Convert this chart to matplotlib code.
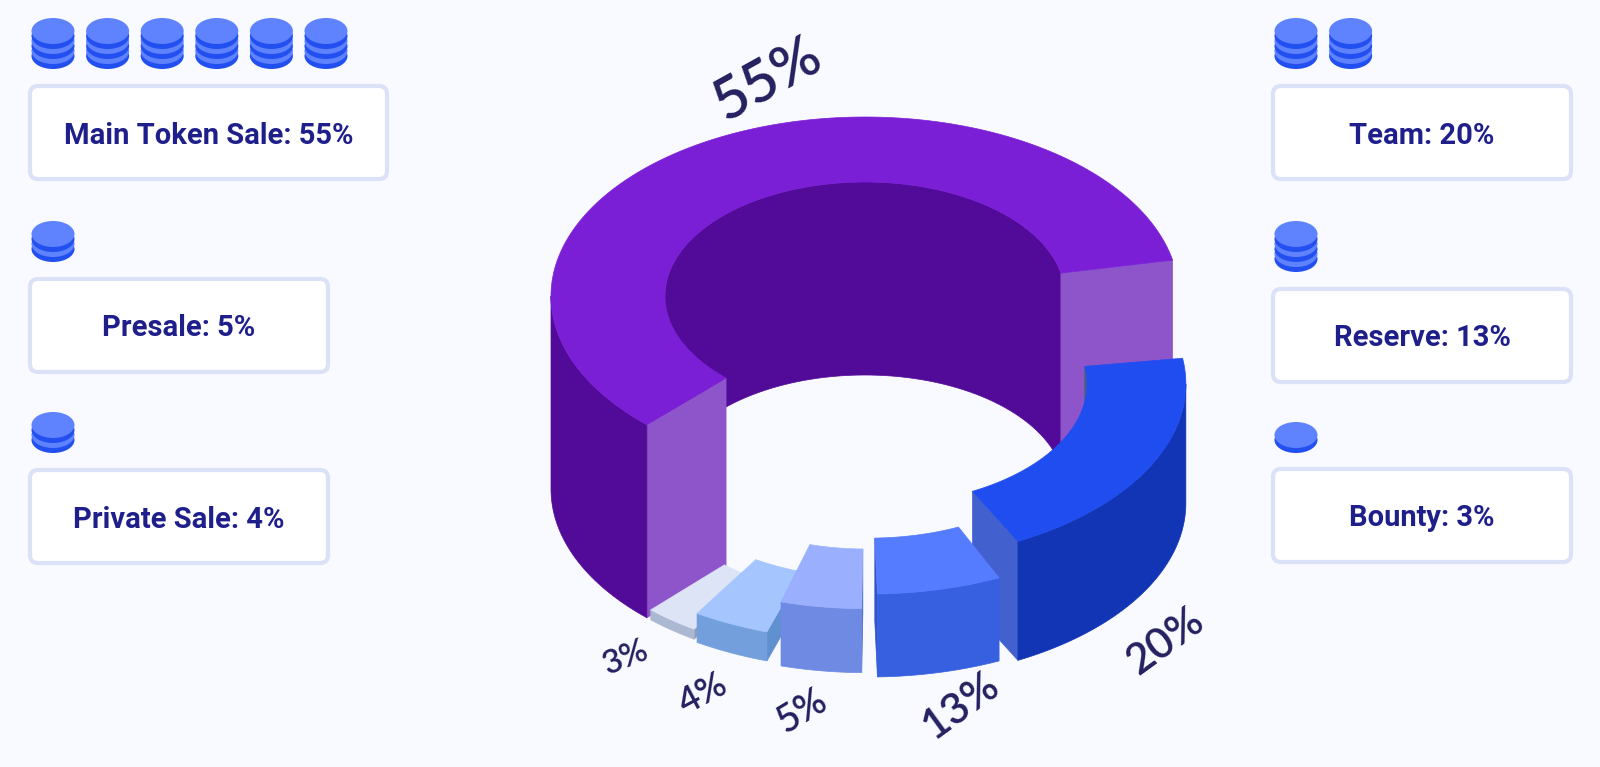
import numpy as np
import matplotlib
matplotlib.use('Agg')
import matplotlib.pyplot as plt
from matplotlib.patches import Ellipse, FancyBboxPatch

names = ['Main Token Sale', 'Team', 'Reserve', 'Presale', 'Private Sale', 'Bounty']
shares = [55, 20, 13, 5, 4, 3]
coin_stacks = [6, 2, 1, 1, 1, 1]
coin_discs = [3, 3, 3, 2, 2, 1]

# the drawing is not a true pie, sweep = share * 3.6 * stretch
stretch = [1.083, 0.986, 0.49, 0.855, 0.97, 0.93]
gap_after = [3.2, 2.9, 2.16, 2.0, 1.0, 1.0]
heights = [193, 119, 83, 64, 29, 10]
shift_x = [0, 10, 4, 0, 0, 0]
shift_y = [0, 14, 9, 10, 0, 0]
r_out = [1.0, 0.99, 1.0, 0.97, 1.01, 1.0]
r_in = [1.0, 1.06, 1.08, 1.0, 1.03, 1.03]
top_col = ['#7b1fd6', '#1f4df0', '#557cff', '#9ab0ff', '#a5c5ff', '#dde4f5']
wall_col = ['#520b99', '#1235b5', '#3760e0', '#6e8ae3', '#739fdd', '#aab8d2']
face_col = ['#8e55cb', '#4360cf', '#2f55cc', '#4a6ad0', '#6090d0', '#8f9fb8']
back_col = ['#520b99', '#4a5f80', '#3760e0', '#6e8ae3', '#739fdd', '#aab8d2']
draw_order = [0, 1, 5, 4, 3, 2]

cx, base_y = 865, 489
a_out, b_out = 314, 179
a_in, b_in = 200, 114
start_angle = 134

box_x = [28, 1271, 1271, 28, 28, 1271]
box_y = [84, 84, 287, 277, 468, 467]
box_w = [361, 302, 302, 302, 302, 302]
box_h = 97
coin_y = [18, 18, 221, 221, 412, 422]

label_x = [767, 1165, 961, 802, 703, 626]
label_y = [80, 641, 705, 712, 694, 658]
label_rot = [29, 36, 36, 31, 28, 22]
label_size = [42, 31, 31, 27, 26, 24]

bg = '#f9faff'
blue_light = '#5f82ff'
blue_dark = '#2250f0'
text_col = '#1f1f8c'
label_col = '#25205f'


def ring(t, r, a, b, x0, y0):
    t = np.radians(t)
    return x0 + r * a * np.cos(t), y0 + r * b * np.sin(t)


def band(ax, t0, t1, r, a, b, x0, y0, h, col, z):
    # curved wall between top and bottom edge
    if t1 <= t0:
        return
    t = np.linspace(t0, t1, 80)
    x, y = ring(t, r, a, b, x0, y0)
    ax.fill(np.r_[x, x[::-1]], np.r_[y - h, y[::-1]], color=col, lw=0.5, zorder=z)


def cut(ax, t, ro, ri, x0, y0, h, col, z):
    xo, yo = ring(t, ro, a_out, b_out, x0, y0)
    xi, yi = ring(t, ri, a_in, b_in, x0, y0)
    ax.fill([xo, xi, xi, xo], [yo - h, yi - h, yi, yo], color=col, lw=0.5, zorder=z)


def draw_slice(ax, i, t0, t1, z):
    x0 = cx + shift_x[i]
    y0 = base_y + shift_y[i]
    h = heights[i]
    # far side of the inner wall, sin(t) < 0
    for k in [-360, 0]:
        band(ax, max(t0, 180 + k), min(t1, 360 + k), r_in[i], a_in, b_in, x0, y0, h, back_col[i], z)
    # cut ends
    if np.cos(np.radians(t0)) < 0:
        cut(ax, t0, r_out[i], r_in[i], x0, y0, h, face_col[i], z)
    if np.cos(np.radians(t1)) > 0:
        cut(ax, t1, r_out[i], r_in[i], x0, y0, h, face_col[i], z)
    # near side of the outer wall, sin(t) > 0
    for k in [0, 360]:
        band(ax, max(t0, k), min(t1, 180 + k), r_out[i], a_out, b_out, x0, y0, h, wall_col[i], z)
    t = np.linspace(t0, t1, 200)
    xo, yo = ring(t, r_out[i], a_out, b_out, x0, y0 - h)
    xi, yi = ring(t[::-1], r_in[i], a_in, b_in, x0, y0 - h)
    ax.fill(np.r_[xo, xi], np.r_[yo, yi], color=top_col[i], lw=0.5, zorder=z)


def draw_stack(ax, xc, y, discs, z=5):
    w, top_h, thick, step = 43, 26, 5, 10
    for d in range(discs - 1, -1, -1):
        yc = y + top_h / 2 + d * step
        ax.add_patch(Ellipse((xc, yc + thick), w, top_h, color=blue_dark, lw=0, zorder=z))
        ax.add_patch(Ellipse((xc, yc), w, top_h, color=blue_light, lw=0, zorder=z))


fig = plt.figure(figsize=(16, 7.67), dpi=100, facecolor=bg)
ax = fig.add_axes([0, 0, 1, 1])
ax.set_xlim(0, 1600)
ax.set_ylim(767, 0)
ax.axis('off')

angles = []
t = start_angle
for i, s in enumerate(shares):
    sweep = s * 3.6 * stretch[i]
    angles.append((t, t + sweep))
    t += sweep + gap_after[i]

for z, i in enumerate(draw_order):
    draw_slice(ax, i, angles[i][0], angles[i][1], z + 1)

for i, s in enumerate(shares):
    ax.text(label_x[i], label_y[i], f'{s}%', fontsize=label_size[i], rotation=label_rot[i],
            color=label_col, family='Lato', weight='semibold', ha='center', va='center', zorder=10)

    ax.add_patch(FancyBboxPatch((box_x[i] + 2, box_y[i] + 2), box_w[i] - 4, box_h - 4,
                                boxstyle='round,pad=0,rounding_size=8', fc='white',
                                ec='#dbe1f6', lw=3, zorder=3))
    ax.text(box_x[i] + box_w[i] / 2, box_y[i] + box_h / 2 + 3, f'{names[i]}: {s}%',
            fontsize=21, family='Roboto', weight='semibold', color=text_col,
            ha='center', va='center', zorder=4)
    for k in range(coin_stacks[i]):
        draw_stack(ax, box_x[i] + 25 + k * 54.6, coin_y[i], coin_discs[i])

plt.savefig('out.png', dpi=100, facecolor=bg)
